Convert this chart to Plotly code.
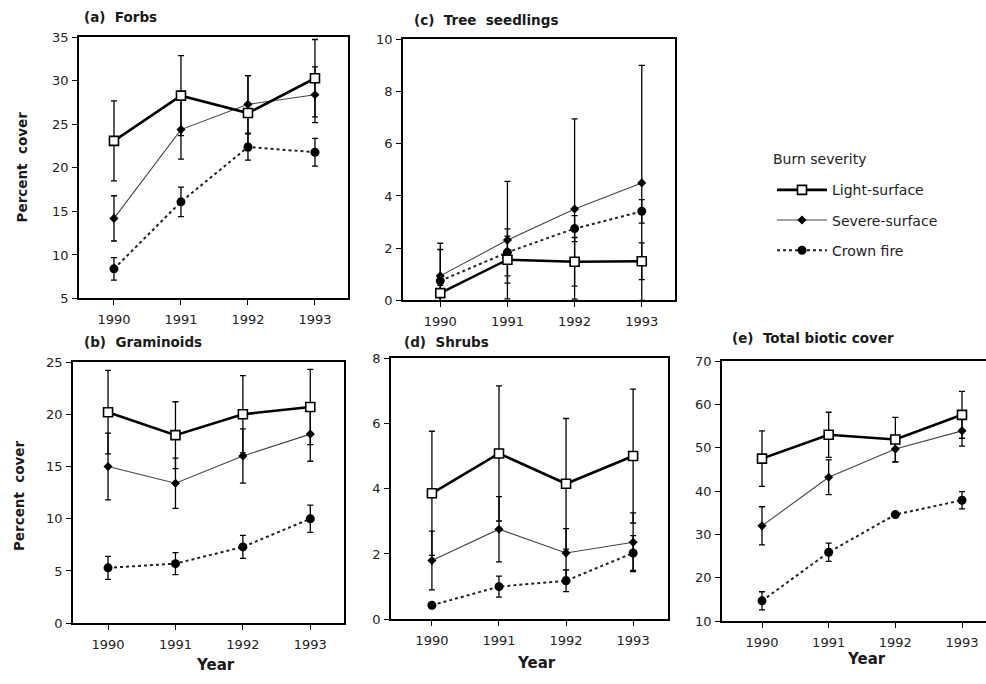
import plotly.graph_objects as go

# ---------------- data ----------------
years = [1990, 1991, 1992, 1993]
series_names = ["Light-surface", "Severe-surface", "Crown fire"]

# (a) Forbs
forbs_light = [23.1, 28.3, 26.3, 30.3]
forbs_light_se = [4.6, 4.6, 4.3, 4.45]
forbs_severe = [14.2, 24.4, 27.3, 28.4]
forbs_severe_se = [2.6, 3.4, 3.3, 3.2]
forbs_crown = [8.4, 16.1, 22.4, 21.8]
forbs_crown_se = [1.3, 1.7, 1.5, 1.6]

# (b) Graminoids
gram_light = [20.2, 18.0, 20.0, 20.7]
gram_light_se = [4.0, 3.2, 3.7, 3.6]
gram_severe = [15.0, 13.4, 16.0, 18.1]
gram_severe_se = [3.2, 2.4, 2.6, 2.6]
gram_crown = [5.3, 5.7, 7.3, 10.0]
gram_crown_se = [1.1, 1.05, 1.1, 1.3]

# (c) Tree seedlings
tree_light = [0.28, 1.56, 1.48, 1.5]
tree_light_se = [0.3, 0.9, 0.93, 0.7]
tree_severe = [0.94, 2.31, 3.5, 4.5]
tree_severe_se = [1.25, 2.25, 3.45, 4.5]
tree_crown = [0.75, 1.84, 2.75, 3.41]
tree_crown_se = [1.2, 0.9, 0.5, 0.45]

# (d) Shrubs
shrub_light = [3.86, 5.08, 4.15, 5.0]
shrub_light_se = [1.9, 2.07, 2.0, 2.05]
shrub_severe = [1.8, 2.76, 2.03, 2.36]
shrub_severe_se = [0.9, 1.0, 0.75, 0.9]
shrub_crown = [0.43, 1.0, 1.18, 2.03]
shrub_crown_se = [0.08, 0.32, 0.33, 0.53]

# (e) Total biotic cover
total_light = [47.5, 53.0, 51.9, 57.6]
total_light_se = [6.4, 5.2, 5.1, 5.4]
total_severe = [32.0, 43.2, 49.7, 53.9]
total_severe_se = [4.4, 4.0, 3.0, 3.5]
total_crown = [14.7, 25.9, 34.6, 37.9]
total_crown_se = [2.1, 2.1, 0.5, 2.0]

panel_titles = ["(a)  Forbs", "(b)  Graminoids", "(c)  Tree  seedlings",
                "(d)  Shrubs", "(e)  Total biotic cover"]
x_tick_labels = ["1990", "1991", "1992", "1993"]
legend_title = "Burn severity"

panels = [
    dict(vals=[(forbs_light, forbs_light_se), (forbs_severe, forbs_severe_se), (forbs_crown, forbs_crown_se)],
         yrange=[5, 35], dtick=5, px=(79, 348), py=(31, 298), xr=[1989.478, 1993.493]),
    dict(vals=[(gram_light, gram_light_se), (gram_severe, gram_severe_se), (gram_crown, gram_crown_se)],
         yrange=[0, 25], dtick=5, px=(73, 344), py=(363, 630), xr=[1989.48, 1993.5]),
    dict(vals=[(tree_light, tree_light_se), (tree_severe, tree_severe_se), (tree_crown, tree_crown_se)],
         yrange=[0, 10], dtick=2, px=(403, 675), py=(33, 300), xr=[1989.445, 1993.495]),
    dict(vals=[(shrub_light, shrub_light_se), (shrub_severe, shrub_severe_se), (shrub_crown, shrub_crown_se)],
         yrange=[0, 8], dtick=2, px=(391, 668), py=(359, 626), xr=[1989.39, 1993.52]),
    dict(vals=[(total_light, total_light_se), (total_severe, total_severe_se), (total_crown, total_crown_se)],
         yrange=[10, 70], dtick=10, px=(722, 986), py=(362, 628), xr=[1989.4, 1993.36]),
]

W, H = 986, 684
FONT = "DejaVu Sans, Liberation Sans, Arial, sans-serif"

styles = [
    dict(line=dict(color="black", width=2.6),
         marker=dict(symbol="square", size=9, color="white", line=dict(color="black", width=1.6))),
    dict(line=dict(color="#444444", width=1.1),
         marker=dict(symbol="diamond", size=7, color="black", line=dict(color="black", width=0))),
    dict(line=dict(color="#222222", width=2, dash="dot"),
         marker=dict(symbol="circle", size=9, color="black", line=dict(color="black", width=0))),
]

fig = go.Figure()
layout_axes = {}
for i, p in enumerate(panels):
    n = "" if i == 0 else str(i + 1)
    xa, ya = "x" + n, "y" + n
    # draw crown first so light lies on top
    for k in [2, 1, 0]:
        v, se = p["vals"][k]
        st = styles[k]
        fig.add_trace(go.Scatter(
            x=years, y=v, mode="lines+markers", name=series_names[k],
            xaxis=xa, yaxis=ya, line=st["line"], marker=st["marker"],
            error_y=dict(type="data", array=se, visible=True, color="black",
                         thickness=1.3, width=3),
            showlegend=(i == 0), legendgroup=series_names[k],
            legendrank=k + 1, cliponaxis=False,
        ))
    x0, x1 = p["px"]
    y0, y1 = p["py"]
    last = (i == 4)
    layout_axes["xaxis" + n] = dict(
        domain=[x0 / W, min(x1 / W, 1.0)], anchor=ya, range=p["xr"],
        tickmode="array", tickvals=years, ticktext=x_tick_labels,
        showline=True, linecolor="black", linewidth=1.5, mirror=True,
        ticks="outside", ticklen=5, tickwidth=1.3, tickcolor="black",
        ticklabelstandoff=3,
        showgrid=False, zeroline=False,
        tickfont=dict(family=FONT, size=13, color="#222222"),
    )
    layout_axes["yaxis" + n] = dict(
        domain=[1 - y1 / H, 1 - y0 / H], anchor=xa, range=p["yrange"],
        dtick=p["dtick"], tick0=0,
        showline=True, linecolor="black", linewidth=1.5, mirror=(not last),
        ticks="outside", ticklen=5, tickwidth=1.3, tickcolor="black",
        ticklabelstandoff=1,
        showgrid=False, zeroline=False,
        tickfont=dict(family=FONT, size=13, color="#222222"),
    )

fig.update_layout(**layout_axes)

annotations = []
title_pos = [(82, 10), (82, 342), (412, 13), (402, 342), (730, 338)]
for t, (tx, ty) in zip(panel_titles, title_pos):
    annotations.append(dict(text="<b>" + t.replace("  ", " &nbsp;") + "</b>", x=tx / W, y=1 - ty / H,
                            xref="paper", yref="paper",
                            xanchor="left", yanchor="middle", showarrow=False,
                            font=dict(family=FONT, size=13.5, color="#1a1a1a")))
for (lx, ly) in [(22, 164), (19, 500)]:
    annotations.append(dict(text="<b>Percent &nbsp;cover</b>", x=lx / W, y=1 - ly / H, xref="paper", yref="paper",
                            xanchor="center", yanchor="middle", textangle=-90, showarrow=False,
                            font=dict(family=FONT, size=13.5, color="#1a1a1a")))
for (lx, ly) in [(215, 672), (536, 670), (866, 666)]:
    annotations.append(dict(text="<b>Year</b>", x=lx / W, y=1 - ly / H, xref="paper", yref="paper",
                            xanchor="center", yanchor="bottom", yshift=-12, showarrow=False,
                            font=dict(family=FONT, size=15, color="#1a1a1a")))
annotations.append(dict(text=legend_title, x=771 / W, y=1 - 155 / H, xref="paper", yref="paper",
                        xanchor="left", yanchor="middle", showarrow=False,
                        font=dict(family=FONT, size=14, color="#222222")))

fig.update_layout(
    width=W, height=H, margin=dict(l=0, r=0, t=0, b=0),
    paper_bgcolor="white", plot_bgcolor="white",
    annotations=annotations,
    showlegend=True,
    legend=dict(x=772 / W, y=1 - 171 / H, xanchor="left", yanchor="top",
                font=dict(family=FONT, size=14, color="#222222"),
                tracegroupgap=9, bgcolor="rgba(0,0,0,0)", itemwidth=50,
                traceorder="grouped"),
)

fig.write_html("out.html")
